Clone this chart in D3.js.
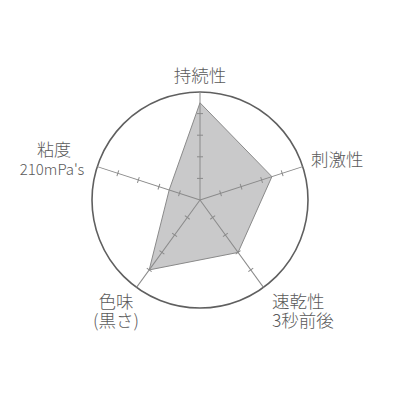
<!DOCTYPE html>
<html>
<head>
<meta charset="utf-8">
<script src="https://cdn.jsdelivr.net/npm/d3@7"></script>
<style>
    html, body { margin: 0; padding: 0; background: #fff; }
    svg { display: block; }
    text { font-family: "Noto Sans CJK JP", "Noto Sans", sans-serif; font-weight: 300; fill: #5a5a5a; }
</style>
</head>
<body>
<div id="chart"></div>
<script>
// Axis labels, clockwise from the top
const axisNames = ["持続性", "刺激性", "速乾性", "色味", "粘度"];
const axisSubNames = ["", "", "3秒前後", "(黒さ)", "210mPa's"];
const values = [4.5, 3.5, 3.0, 4.0, 1.5];
const tickValues = [1, 2, 3, 4];
const maxValue = 5;

const width = 400, height = 400;
const cx = 200, cy = 200, radius = 108;

const svg = d3.select("#chart").append("svg")
    .attr("width", width)
    .attr("height", height);

const g = svg.append("g").attr("transform", "translate(" + cx + "," + cy + ")");

const rScale = d3.scaleLinear().domain([0, maxValue]).range([0, radius]);
const angle = d3.scalePoint().domain(axisNames).range([0, 2 * Math.PI * 4 / 5]);

function pos(name, v) {
    let a = angle(name);
    return [Math.sin(a) * rScale(v), -Math.cos(a) * rScale(v)];
}

// outer ring
g.append("circle")
    .attr("r", radius)
    .attr("fill", "none")
    .attr("stroke", "#5f5f5f")
    .attr("stroke-width", 1.6);

// data polygon (under axes)
const line = d3.line().curve(d3.curveLinearClosed);
g.append("path")
    .attr("d", line(axisNames.map((n, i) => pos(n, values[i]))))
    .attr("fill", "#c9c9ca")
    .attr("stroke", "#8a8a8a")
    .attr("stroke-width", 1);

// axes
const axes = g.selectAll(".axis")
    .data(axisNames)
    .enter()
    .append("g")
    .attr("class", "axis")
    .attr("transform", d => "rotate(" + (angle(d) * 180 / Math.PI) + ")");

axes.append("line")
    .attr("x1", 0).attr("y1", 0)
    .attr("x2", 0).attr("y2", -rScale(maxValue))
    .attr("stroke", "#8a8a8a")
    .attr("stroke-width", 1);

axes.selectAll(".tick")
    .data(tickValues)
    .enter()
    .append("line")
    .attr("class", "tick")
    .attr("x1", -3).attr("x2", 3)
    .attr("y1", d => -rScale(d))
    .attr("y2", d => -rScale(d))
    .attr("stroke", "#8a8a8a")
    .attr("stroke-width", 1);

// labels
const labelPos = {
    "持続性": {x: 200, y: 82, anchor: "middle", size: 17.5},
    "刺激性": {x: 311, y: 166, anchor: "start", size: 17.5},
    "速乾性": {x: 272, y: 308, anchor: "start", size: 17.5},
    "色味": {x: 116, y: 308, anchor: "middle", size: 17.5},
    "粘度": {x: 54, y: 156, anchor: "middle", size: 17}
};
const subPos = {
    "速乾性": {x: 272, y: 327, anchor: "start", size: 17.5},
    "色味": {x: 116, y: 327, anchor: "middle", size: 17.5},
    "粘度": {x: 52, y: 175, anchor: "middle", size: 15}
};

axisNames.forEach((name, i) => {
    let p = labelPos[name];
    svg.append("text")
        .attr("x", p.x).attr("y", p.y)
        .attr("text-anchor", p.anchor)
        .attr("font-size", p.size)
        .text(name);
    if (axisSubNames[i]) {
        let s = subPos[name];
        svg.append("text")
            .attr("x", s.x).attr("y", s.y)
            .attr("text-anchor", s.anchor)
            .attr("font-size", s.size)
            .attr("font-family", name === "粘度" ? "'Liberation Sans', sans-serif" : null)
            .text(axisSubNames[i]);
    }
});
</script>
</body>
</html>
